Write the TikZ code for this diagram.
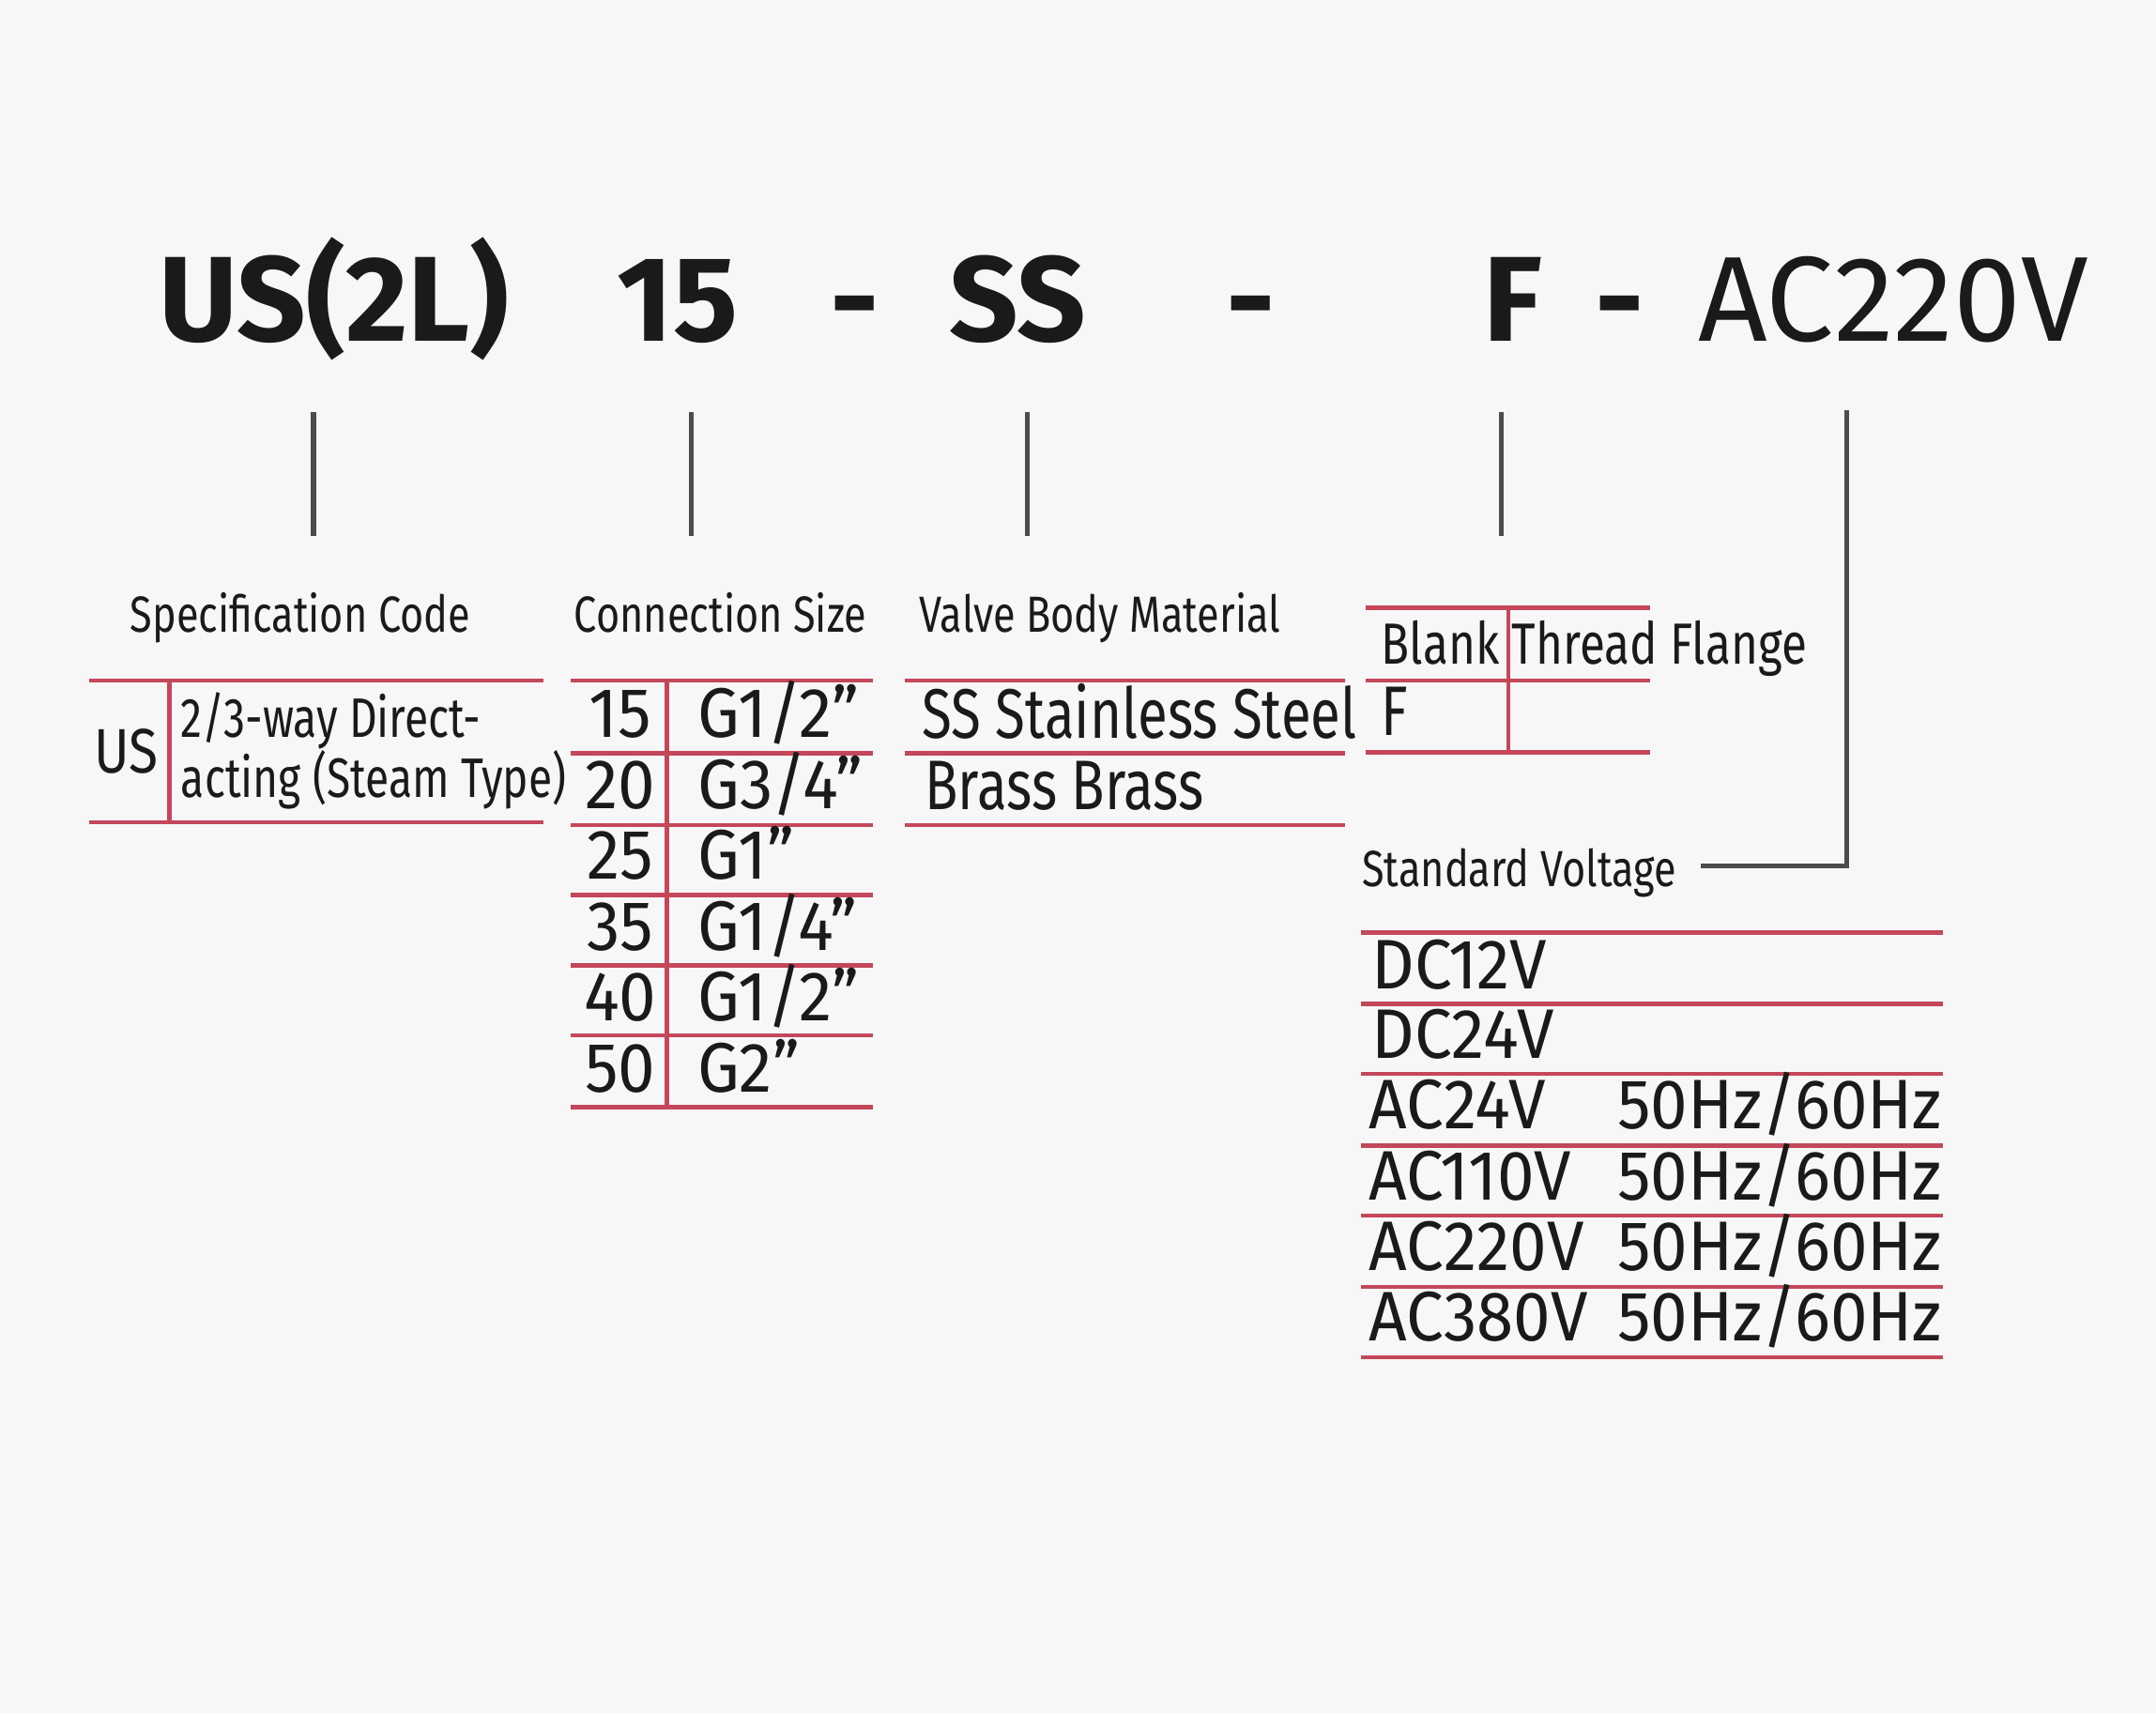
\documentclass[tikz,border=0pt]{standalone}
\usepackage{fontspec}
\setmainfont{Fira Sans}[Ligatures=ResetAll]
\usepackage{xcolor}
\definecolor{rowred}{HTML}{C4475A}
\definecolor{ink}{HTML}{1A1A1A}
\newcommand{\inch}{\symbol{34}}
\begin{document}
\begin{tikzpicture}[x=0.01cm,y=-0.01cm,
            title/.style={anchor=base, text=ink, font=\fontsize{25}{30}\selectfont\bfseries, inner sep=0},
            head/.style={anchor=base west, text=ink, font=\fontsize{10.5}{12}\selectfont\addfontfeature{FakeStretch=0.8}, inner sep=0},
            cell/.style={anchor=base west, text=ink, font=\fontsize{14.5}{16}\selectfont\addfontfeature{FakeStretch=0.78}, inner sep=0},
            wide/.style={cell, font=\fontsize{14.5}{16}\selectfont\addfontfeature{FakeStretch=0.95}},
            small/.style={anchor=base west, text=ink, font=\fontsize{11.5}{13}\selectfont\addfontfeature{FakeStretch=0.78}, inner sep=0},
            rule/.style={draw=rowred, line width=0.9pt},
            lead/.style={draw=black!70, line width=1pt}
            ]
            % Background
            \fill[color=black!3] (0,0) rectangle (1568,1246);
            \useasboundingbox (0,0) rectangle (1568,1246);

            % Model code
            \node[title] (spec) at (243,248) {US(2L)};
            \node[title] (size) at (493,248) {15};
            \node[title] (d1) at (622,248) {-};
            \node[title] (mat) at (740,248) {SS};
            \node[title] (d2) at (910,248) {-};
            \node[title] (conn) at (1100,248) {F};
            \node[title] (d3) at (1178,248) {-};
            \node[title, font=\fontsize{25}{30}\selectfont] (volt) at (1377,248) {AC220V};

            % Leader lines
            \foreach \x/\n in {228/a, 503/b, 747/c, 1092/d} {
              \coordinate (\n1) at (\x,300);
              \coordinate (\n2) at (\x,390);
              \draw[lead] (\n1) -- (\n2);
            }
            \coordinate (e1) at (1343,298);
            \coordinate (e2) at (1237,630);
            \draw[lead] (e1) |- (e2);

            % Specification code
            \node[head] (spechead) at (94,460) {Specification Code};
            \draw[rule] (65,495) -- (395,495);
            \draw[rule] (65,598) -- (395,598);
            \draw[rule] (123,495) -- (123,598);
            \node[small, font=\fontsize{13}{15}\selectfont\addfontfeature{FakeStretch=0.85}] (us) at (68,562) {US};
            \node[small] (spec1) at (131,536) {2/3-way Direct-};
            \node[small] (spec2) at (131,580) {acting (Steam Type)};

            % Connection size
            \node[head] (sizehead) at (417,460) {Connection Size};
            \foreach \y in {495,548,600,651,702,753,805}
              \draw[rule] (415,\y) -- (635,\y);
            \draw[rule] (485,495) -- (485,805);
            \foreach \n/\g [count=\i] in {15/{G1/2\inch}, 20/{G3/4\inch}, 25/{G1\inch}, 35/{G1/4\inch}, 40/{G1/2\inch}, 50/{G2\inch}} {
              \node[wide, anchor=base] (n\i) at (451,485+51.5*\i) {\n};
              \node[wide] (g\i) at (507,485+51.5*\i) {\g};
            }

            % Valve body material
            \node[head] (mathead) at (668,460) {Valve Body Material};
            \foreach \y in {495,548,600}
              \draw[rule] (658,\y) -- (978,\y);
            \node[cell] (ss) at (670,537) {SS Stainless Steel};
            \node[cell] (brass) at (672,589) {Brass Brass};

            % Connection type
            \draw[rule] (993,442) -- (1200,442);
            \draw[rule] (993,495) -- (1200,495);
            \draw[rule] (993,547) -- (1200,547);
            \draw[rule] (1097,442) -- (1097,547);
            \node[head, font=\fontsize{12}{14}\selectfont\addfontfeature{FakeStretch=0.8}] (blank) at (1004,483) {Blank};
            \node[head, font=\fontsize{12}{14}\selectfont\addfontfeature{FakeStretch=0.8}] (flange) at (1099,483) {Thread Flange};
            \node[cell] (f) at (1004,535) {F};

            % Standard voltage
            \node[head] (volthead) at (990,645) {Standard Voltage};
            \foreach \y in {678,730,781,833,884,936,987}
              \draw[rule] (990,\y) -- (1413,\y);
            \node[wide] (v1) at (997,719) {DC12V};
            \node[wide] (v2) at (997,770) {DC24V};
            \node[wide] (v3) at (995,821) {AC24V};
            \node[wide] (v4) at (995,873) {AC110V};
            \node[wide] (v5) at (995,924) {AC220V};
            \node[wide] (v6) at (995,975) {AC380V};
            \foreach \i/\y in {3/821, 4/873, 5/924, 6/975}
              \node[wide, anchor=base east] (hz\i) at (1413,\y) {50Hz/60Hz};
        \end{tikzpicture}
\end{document}
